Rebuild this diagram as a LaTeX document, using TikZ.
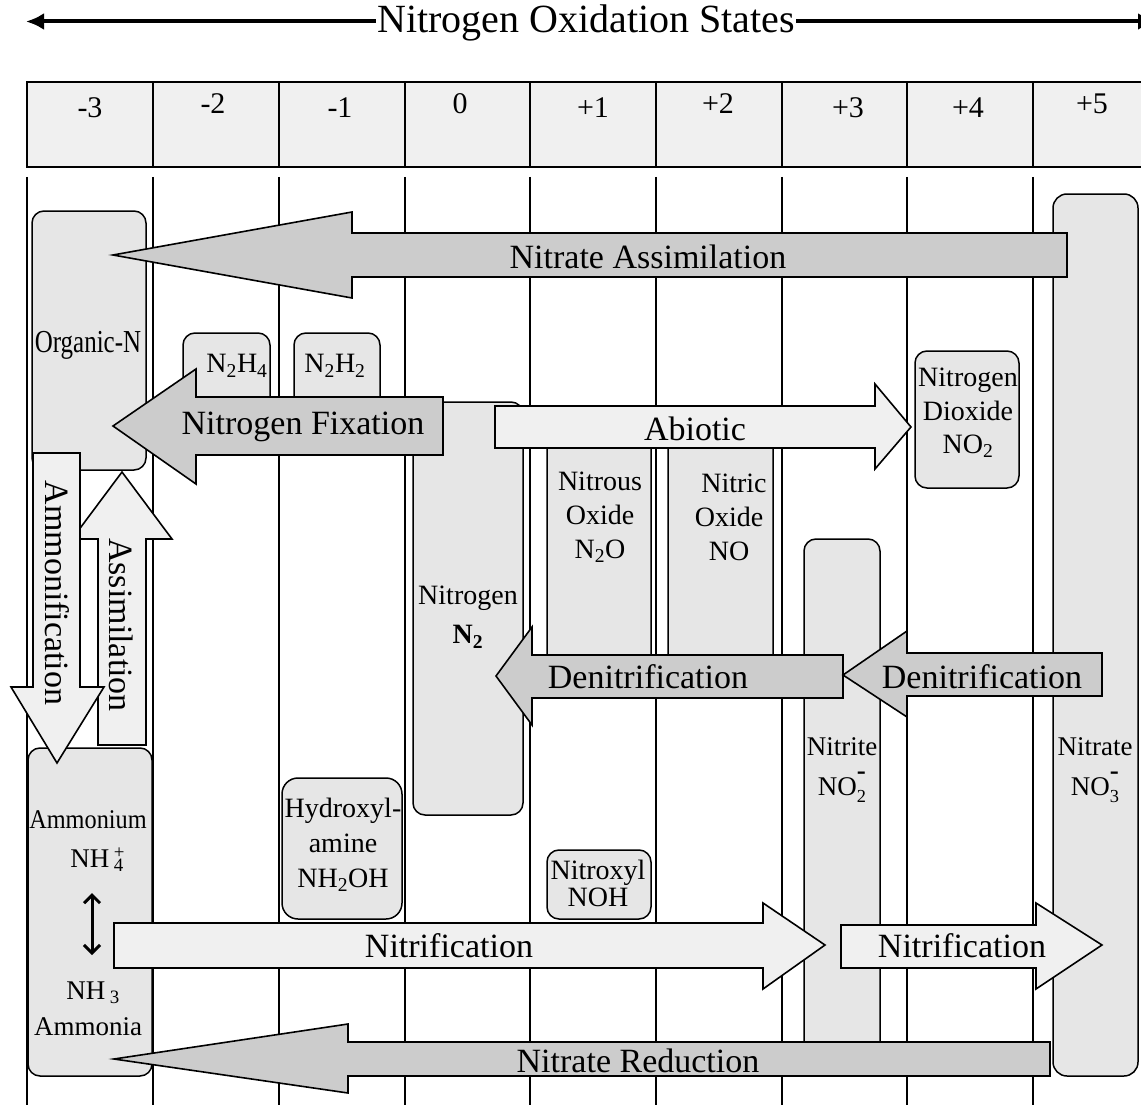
\documentclass[tikz,border=0pt]{standalone}
\usepackage{fontspec}
\setmainfont{Liberation Serif}
\usetikzlibrary{arrows.meta}
\definecolor{boxgray}{HTML}{E6E6E6}
\definecolor{palegray}{HTML}{F0F0F0}
\definecolor{darkarrow}{HTML}{CCCCCC}
\newcommand{\supsub}[2]{\rlap{\textsuperscript{#1}}\textsubscript{#2}}
\newcommand{\anion}[1]{\rlap{\raisebox{0.62em}{\textbf{-}}}\raisebox{-0.24em}{\scalebox{0.68}{#1}}}
\tikzset{
  species/.style={draw=black, line width=1.5pt, fill=boxgray, rounded corners=12pt},
  darkblock/.style={draw=black, line width=1.6pt, fill=darkarrow, line join=miter},
  lightblock/.style={draw=black, line width=1.6pt, fill=palegray, line join=miter},
  gridline/.style={line width=1.6pt},
  proc/.style={font=\fontsize{34}{34}\selectfont, inner sep=0pt},
  chem/.style={font=\fontsize{28}{34}\selectfont, align=center, inner sep=0pt},
  hdr/.style={font=\fontsize{30}{30}\selectfont, inner sep=0pt},
}
\begin{document}
\begin{tikzpicture}[x=1pt,y=-1pt]
\useasboundingbox (0,0) rectangle (1141,1105);
\clip (0,0) rectangle (1141,1105);

% title
\node[anchor=base, inner sep=0pt, font=\fontsize{40}{40}\selectfont] (title) at (586,33) {Nitrogen Oxidation States};
\coordinate (tl) at (26,21.5);
\coordinate (tr) at (1156,21.5);
\draw[line width=4pt, -{Latex[length=18pt,width=17pt]}] ([xshift=-1pt]title.west |- tl) -- (tl);
\draw[line width=4pt, -{Latex[length=18pt,width=17pt]}] ([xshift=1pt]title.east |- tr) -- (tr);

% header
\draw[line width=2.5pt, fill=palegray] (27,82) rectangle (1175,167);
\foreach \x in {153,279,405,530,656,782,907,1033}
  \draw[line width=2pt] (\x,82) -- (\x,167);
\node[hdr] (hm3) at (90,108) {-3};
\node[hdr] (hm2) at (213,104) {-2};
\node[hdr] (hm1) at (340,108) {-1};
\node[hdr] (h0) at (460,104) {0};
\node[hdr] (hp1) at (593,108) {+1};
\node[hdr] (hp2) at (718,104) {+2};
\node[hdr] (hp3) at (848,108) {+3};
\node[hdr] (hp4) at (968,108) {+4};
\node[hdr] (hp5) at (1092,104) {+5};

% column lines
\foreach \x in {27,153,279,405,530,656,782,907,1033}
  \draw[gridline] (\x,177) -- (\x,1110);

% species boxes
\draw[species] (32,211) rectangle (146,470);
\draw[species] (183,333) rectangle (270,420);
\draw[species] (294,333) rectangle (380,420);
\draw[species] (413,402) rectangle (523,815);
\draw[species] (547,430) rectangle (651,670);
\draw[species] (668,430) rectangle (773,670);
\draw[species] (915,351) rectangle (1019,488);
\draw[species] (804,539) rectangle (880,1060);
\draw[species, rounded corners=14pt] (1053,194) rectangle (1138,1076);
\draw[species] (28,748) rectangle (152,1076);
\draw[species, rounded corners=16pt] (282,778) rectangle (402,919);
\draw[species] (547,850) rectangle (651,919);

% process arrows
\draw[darkblock] (113,255) -- (352,212) -- (352,233) -- (1067,233) -- (1067,277) -- (352,277) -- (352,298) -- cycle;
\draw[darkblock] (113,426) -- (196,369) -- (196,397) -- (443,397) -- (443,455) -- (196,455) -- (196,484) -- cycle;
\draw[lightblock] (495,406) -- (875,406) -- (875,384) -- (911,427) -- (875,469) -- (875,448) -- (495,448) -- cycle;
\draw[darkblock] (496,676) -- (532,627) -- (532,655) -- (843,655) -- (843,698) -- (532,698) -- (532,725) -- cycle;
\draw[darkblock] (843,675) -- (907,631) -- (907,653) -- (1102,653) -- (1102,696) -- (907,696) -- (907,717) -- cycle;
\draw[lightblock] (114,923) -- (763,923) -- (763,903) -- (825,945) -- (763,989) -- (763,968) -- (114,968) -- cycle;
\draw[lightblock] (841,925) -- (1036,925) -- (1036,903) -- (1102,945) -- (1036,989) -- (1036,968) -- (841,968) -- cycle;
\draw[darkblock] (114,1059) -- (348,1024) -- (348,1042) -- (1050,1042) -- (1050,1076) -- (348,1076) -- (348,1093) -- cycle;
\draw[lightblock] (98,745) -- (98,539) -- (72,539) -- (122,472) -- (172,539) -- (146,539) -- (146,745) -- cycle;
\draw[lightblock] (33,453) -- (80,453) -- (80,687) -- (104,687) -- (57,763) -- (11,687) -- (33,687) -- cycle;

% process labels
\node[proc] (lnas) at (648,257) {Nitrate Assimilation};
\node[proc] (lfix) at (303,427) {Nitrogen Fixation};
\node[proc] (labi) at (695,429) {Abiotic};
\node[proc] (lden1) at (648,677) {Denitrification};
\node[proc] (lden2) at (982,677) {Denitrification};
\node[proc] (lnit1) at (449,946) {Nitrification};
\node[proc] (lnit2) at (962,946) {Nitrification};
\node[proc] (lnred) at (638,1061) {Nitrate Reduction};
\node[proc, rotate=-90] (lamm) at (57,593) {Ammonification};
\node[proc, rotate=-90] (lass) at (121,625) {Assimilation};

% species labels
\node[inner sep=0pt] (torg) at (88,345) {\scalebox{0.78}[1]{\fontsize{32}{32}\selectfont Organic-N}};
\node[chem] (tn2h4) at (237,366) {N\textsubscript{2}H\textsubscript{4}};
\node[chem] (tn2h2) at (335,366) {N\textsubscript{2}H\textsubscript{2}};
\node[chem] (tnit) at (468,598) {Nitrogen};
\node[chem] (tn2) at (468,637) {\textbf{N\textsubscript{2}}};
\node[chem] (tn2o) at (600,517) {Nitrous\\Oxide\\N\textsubscript{2}O};
\node[chem] (tno) at (729,517) {\hspace*{10pt}Nitric\\Oxide\\NO};
\node[chem, font=\fontsize{28}{33.5}\selectfont] (tno2) at (968,413) {Nitrogen\\Dioxide\\NO\textsubscript{2}};
\node[chem, font=\fontsize{27}{27}\selectfont] (tnitrite) at (842,747) {Nitrite};
\node[chem, font=\fontsize{27}{27}\selectfont] (tno2m) at (842,787) {NO\anion{2}};
\node[chem, font=\fontsize{27}{27}\selectfont] (tnitrate) at (1095,747) {Nitrate};
\node[chem, font=\fontsize{27}{27}\selectfont] (tno3m) at (1095,787) {NO\anion{3}};
\node[inner sep=0pt] (tamm) at (88,820) {\scalebox{0.9}[1]{\fontsize{27}{27}\selectfont Ammonium}};
\node[chem, font=\fontsize{27}{27}\selectfont] (tnh4) at (97,860) {NH\,\supsub{+}{4}};
\node[chem, font=\fontsize{27}{27}\selectfont] (tnh3) at (93,993) {NH\,\textsubscript{3}};
\node[chem, font=\fontsize{27}{27}\selectfont] (tammonia) at (88,1027) {Ammonia};
\coordinate (eqtop) at (92,893);
\coordinate (eqbot) at (92,955);
\draw[line width=3pt, {Straight Barb[length=8pt,width=16pt]}-{Straight Barb[length=8pt,width=16pt]}] (eqtop) -- (eqbot);
\node[chem, font=\fontsize{28}{35}\selectfont] (thyd) at (343,845) {Hydroxyl-\\amine\\NH\textsubscript{2}OH};
\node[chem, font=\fontsize{28}{27}\selectfont] (tnoh) at (598,883) {Nitroxyl\\NOH};
\end{tikzpicture}
\end{document}
